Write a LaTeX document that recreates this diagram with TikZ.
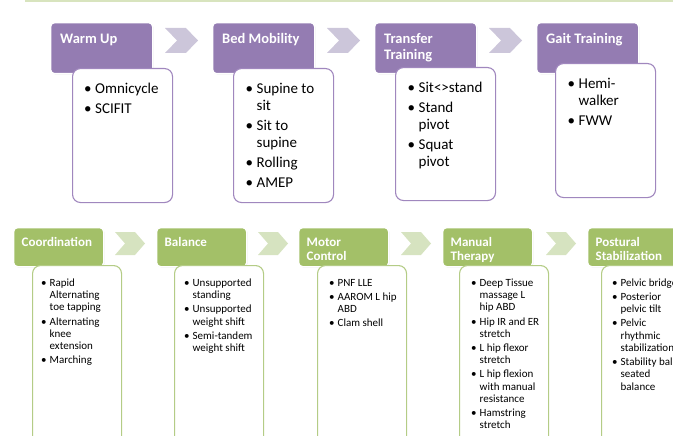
\documentclass[tikz,border=0pt]{standalone}
\usepackage{fontspec}
\setmainfont{Carlito}
\usetikzlibrary{shadows,shapes.symbols}
\definecolor{purpH}{RGB}{148,124,178}
\definecolor{purpChev}{RGB}{204,198,218}
\definecolor{purpLine}{RGB}{160,135,190}
\definecolor{greenH}{RGB}{163,192,104}
\definecolor{greenChev}{RGB}{214,227,192}
\definecolor{greenLine}{RGB}{180,204,134}
\definecolor{topLine}{RGB}{216,228,190}
\newcommand\bu{\textbullet}
\newcommand\topfont{\fontsize{15}{16.9}\selectfont}
\newcommand\botfont{\fontsize{11}{12.3}\selectfont}
\begin{document}
\begin{tikzpicture}[x=1pt,y=-1pt,
  hdr/.style={rounded corners=4pt, draw=white, line width=1.3pt, anchor=north west, inner sep=0pt,
    drop shadow={shadow xshift=0.8pt, shadow yshift=-0.8pt, opacity=0.25}},
  hdrP/.style={hdr, fill=purpH, minimum width=102pt, minimum height=51pt},
  hdrG/.style={hdr, fill=greenH, minimum width=90pt, minimum height=39pt},
  cnt/.style={rounded corners=8pt, fill=white, line width=1.1pt, anchor=north west, inner sep=0pt},
  cntP/.style={cnt, draw=purpLine, minimum width=100pt},
  cntG/.style={cnt, draw=greenLine, minimum width=89pt, minimum height=185pt},
  chev/.style={signal, signal from=west, signal to=east, inner sep=0pt, draw=none},
  chevP/.style={chev, fill=purpChev, minimum width=33pt, minimum height=25pt, signal pointer angle=92},
  chevG/.style={chev, fill=greenChev, minimum width=30pt, minimum height=23pt, signal pointer angle=98},
  htxtT/.style={anchor=north west, inner sep=0pt, text=white, font=\fontsize{14.5}{16}\selectfont\bfseries},
  htxtB/.style={anchor=north west, inner sep=0pt, text=white, font=\fontsize{13}{14}\selectfont\bfseries},
  ttxt/.style={anchor=north west, inner sep=0pt, font=\topfont},
  btxt/.style={anchor=north west, inner sep=0pt, font=\botfont}
]
\useasboundingbox (0,0) rectangle (673,436);
\clip (0,0) rectangle (673,436);
\fill[topLine] (25,0) rectangle (673,2.2);

% ---------- top row ----------
\node[chevP] (a1) at (181.5,40.5) {};
\node[chevP] (a2) at (343.5,40.5) {};
\node[chevP] (a3) at (505.5,40.5) {};

\node[hdrP] (h1) at (50,22) {};
\node[hdrP] (h2) at (212,22) {};
\node[hdrP] (h3) at (374,22) {};
\node[hdrP] (h4) at (536,22) {};

\node[htxtT] (ht1) at (60,32.5) {\begin{tabular}{@{}l@{}}Warm Up\end{tabular}};
\node[htxtT] (ht2) at (222,32.5) {\begin{tabular}{@{}l@{}}Bed Mobility\end{tabular}};
\node[htxtT] (ht3) at (384,32.5) {\begin{tabular}{@{}l@{}}Transfer\\Training\end{tabular}};
\node[htxtT] (ht4) at (546,32.5) {\begin{tabular}{@{}l@{}}Gait Training\end{tabular}};

\node[cntP, minimum height=134pt] (c1) at (72,68) {};
\node[cntP, minimum height=134pt] (c2) at (233,68) {};
\node[cntP, minimum height=133pt] (c3) at (395,67) {};
\node[cntP, minimum height=134pt] (c4) at (555,63) {};

\node[ttxt] (t1) at (84,81.5) {\begin{tabular}{@{}l@{\hspace{3.5pt}}l@{}}
\bu & Omnicycle\\[3.2pt]
\bu & SCIFIT
\end{tabular}};
\node[ttxt] (t2) at (245.5,81.5) {\begin{tabular}{@{}l@{\hspace{3.5pt}}l@{}}
\bu & Supine to\\ & sit\\[3.2pt]
\bu & Sit to\\ & supine\\[3.2pt]
\bu & Rolling\\[3.2pt]
\bu & AMEP
\end{tabular}};
\node[ttxt] (t3) at (407.5,80.5) {\begin{tabular}{@{}l@{\hspace{3.5pt}}l@{}}
\bu & Sit<>stand\\[3.2pt]
\bu & Stand\\ & pivot\\[3.2pt]
\bu & Squat\\ & pivot
\end{tabular}};
\node[ttxt] (t4) at (567.5,76.5) {\begin{tabular}{@{}l@{\hspace{3.5pt}}l@{}}
\bu & Hemi-\\ & walker\\[3.2pt]
\bu & FWW
\end{tabular}};

% ---------- bottom row ----------
\node[chevG] (b1) at (130,243.5) {};
\node[chevG] (b2) at (273,243.5) {};
\node[chevG] (b3) at (416,243.5) {};
\node[chevG] (b4) at (561,243.5) {};

\node[hdrG] (g1) at (13,227) {};
\node[hdrG] (g2) at (156,227) {};
\node[hdrG] (g3) at (298,227) {};
\node[hdrG] (g4) at (442,227) {};
\node[hdrG] (g5) at (587,227) {};

\node[htxtB] (gt1) at (21.5,236) {\begin{tabular}{@{}l@{}}Coordination\end{tabular}};
\node[htxtB] (gt2) at (164.5,236) {\begin{tabular}{@{}l@{}}Balance\end{tabular}};
\node[htxtB] (gt3) at (306.5,236.5) {\begin{tabular}{@{}l@{}}Motor\\Control\end{tabular}};
\node[htxtB] (gt4) at (450.5,236.5) {\begin{tabular}{@{}l@{}}Manual\\Therapy\end{tabular}};
\node[htxtB] (gt5) at (595.5,236.5) {\begin{tabular}{@{}l@{}}Postural\\Stabilization\end{tabular}};

\node[cntG] (d1) at (32,265) {};
\node[cntG] (d2) at (174,265) {};
\node[cntG] (d3) at (317,265) {};
\node[cntG] (d4) at (459,265) {};
\node[cntG] (d5) at (601,265) {};

\node[btxt] (s1) at (41,277.5) {\begin{tabular}{@{}l@{\hspace{3pt}}l@{}}
\bu & Rapid\\ & Alternating\\ & toe tapping\\[1.8pt]
\bu & Alternating\\ & knee\\ & extension\\[1.8pt]
\bu & Marching
\end{tabular}};
\node[btxt] (s2) at (184,277.5) {\begin{tabular}{@{}l@{\hspace{3pt}}l@{}}
\bu & Unsupported\\ & standing\\[1.8pt]
\bu & Unsupported\\ & weight shift\\[1.8pt]
\bu & Semi-tandem\\ & weight shift
\end{tabular}};
\node[btxt] (s3) at (329,277.5) {\begin{tabular}{@{}l@{\hspace{3pt}}l@{}}
\bu & PNF LLE\\[1.8pt]
\bu & AAROM L hip\\ & ABD\\[1.8pt]
\bu & Clam shell
\end{tabular}};
\node[btxt] (s4) at (471,277.5) {\begin{tabular}{@{}l@{\hspace{3pt}}l@{}}
\bu & Deep Tissue\\ & massage L\\ & hip ABD\\[1.8pt]
\bu & Hip IR and ER\\ & stretch\\[1.8pt]
\bu & L hip flexor\\ & stretch\\[1.8pt]
\bu & L hip flexion\\ & with manual\\ & resistance\\[1.8pt]
\bu & Hamstring\\ & stretch
\end{tabular}};
\node[btxt] (s5) at (612,277.5) {\begin{tabular}{@{}l@{\hspace{3pt}}l@{}}
\bu & Pelvic bridge\\[1.8pt]
\bu & Posterior\\ & pelvic tilt\\[1.8pt]
\bu & Pelvic\\ & rhythmic\\ & stabilization\\[1.8pt]
\bu & Stability ball\\ & seated\\ & balance
\end{tabular}};
\end{tikzpicture}
\end{document}
